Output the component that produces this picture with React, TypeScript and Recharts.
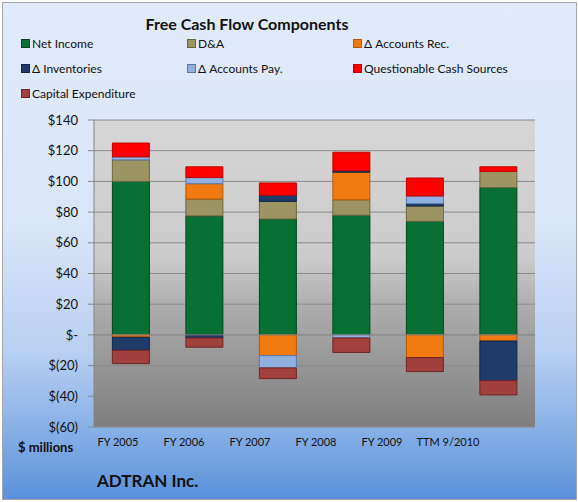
import React from "react";
import {
  BarChart,
  Bar,
  XAxis,
  YAxis,
  CartesianGrid,
  ReferenceLine,
} from "recharts";

const categories = ["FY 2005", "FY 2006", "FY 2007", "FY 2008", "FY 2009", "TTM 9/2010"];

const netIncome = [100, 77.5, 75.5, 78, 74, 96];
const depreciation = [14, 11, 11.5, 10, 10, 10.5];
const accountsRec = [-1.5, 10, -13.5, 18, -14.8, -4];
const inventories = [-8.5, -2, 4, 1, 1.5, -25.8];
const accountsPay = [2, 4, -8, -2, 5, 0];
const questionable = [9, 7, 8, 12, 11.7, 3];
const capex = [-8.7, -6, -7, -9.4, -9.1, -9.3];

const yTicks = [-60, -40, -20, 0, 20, 40, 60, 80, 100, 120, 140];

const SERIES = [
  { key: "netIncome", name: "Net Income", values: netIncome, fill: "#067035", border: "#03451f" },
  { key: "depreciation", name: "D&A", values: depreciation, fill: "#9c9563", border: "#6b663f" },
  { key: "accountsRec", name: "\u0394 Accounts Rec.", values: accountsRec, fill: "#f27a10", border: "#b4580a" },
  { key: "inventories", name: "\u0394 Inventories", values: inventories, fill: "#1f3b69", border: "#122644" },
  { key: "accountsPay", name: "\u0394 Accounts Pay.", values: accountsPay, fill: "#8fb0e0", border: "#5a78a6" },
  { key: "questionable", name: "Questionable Cash Sources", values: questionable, fill: "#ff0000", border: "#c00000" },
  { key: "capex", name: "Capital Expenditure", values: capex, fill: "#a23f3f", border: "#6e2525" },
];

const FONT = "Lato, 'Open Sans', sans-serif";

function money(v: number): string {
  if (v === 0) return "$-";
  if (v < 0) return `$(${-v})`;
  return `$${v}`;
}

export default function App() {
  const data = categories.map((cat, i) => {
    const row: Record<string, number | string> = { cat, idx: i };
    for (const s of SERIES) row[s.key] = s.values[i];
    return row;
  });

  return (
    <div
      style={{
        position: "absolute",
        left: 0,
        top: 0,
        width: 578,
        height: 502,
        background: "#ffffff",
        fontFamily: FONT,
      }}
    >
      <div
        style={{
          position: "absolute",
          left: 2,
          top: 2,
          width: 575,
          height: 498,
          boxSizing: "border-box",
          border: "1px solid #a6a6a6",
          background:
            "linear-gradient(to bottom, #e1eafa 0%, #d9e5f8 45%, #b9d0f2 70%, #8ab2e7 85%, #5a91da 100%)",
        }}
      />
      <div style={{ position: "absolute", left: 0, top: 0 }}>
        <BarChart
          width={578}
          height={502}
          data={data}
          stackOffset="sign"
          barCategoryGap="25%"
          margin={{ top: 120, right: 43, bottom: 45, left: 0 }}
        >
          <defs>
            <linearGradient id="plotBg" x1="0" y1="0" x2="0" y2="1">
              <stop offset="0%" stopColor="#d6d6d6" />
              <stop offset="45%" stopColor="#cbcbcb" />
              <stop offset="62%" stopColor="#ababab" />
              <stop offset="100%" stopColor="#7e7e7e" />
            </linearGradient>
          </defs>
          <CartesianGrid
            vertical={false}
            stroke="#8a8a8a"
            fill="url(#plotBg)"
            fillOpacity={1}
          />
          <XAxis
            dataKey="idx"
            xAxisId="labels"
            type="number"
            domain={[-0.364, 6.318]}
            ticks={[0, 1, 2, 3, 4, 5]}
            tickFormatter={(i: number) => categories[i] ?? ""}
            axisLine={false}
            tickLine={false}
            tickMargin={5}
            height={30}
            allowDataOverflow
            tick={{ fill: "#111", fontSize: 11, fontFamily: FONT }}
          />
          <XAxis dataKey="cat" xAxisId="bars" hide height={0} />
          <YAxis
            domain={[-60, 140]}
            ticks={yTicks}
            tickFormatter={money}
            width={94}
            axisLine={{ stroke: "#868686" }}
            tickLine={{ stroke: "#868686" }}
            tickSize={6}
            tickMargin={10}
            interval={0}
            tick={{ fill: "#111", fontSize: 13, fontFamily: FONT }}
          />
          <ReferenceLine y={0} xAxisId="bars" stroke="#8a8a8a" />
          {SERIES.map((s) => (
            <Bar
              key={s.key}
              dataKey={s.key}
              name={s.name}
              xAxisId="bars"
              stackId="fcf"
              fill={s.fill}
              stroke={s.border}
              strokeWidth={1}
              isAnimationActive={false}
            />
          ))}
        </BarChart>
      </div>

      <div
        style={{
          position: "absolute",
          left: 0,
          width: 494,
          top: 14,
          textAlign: "center",
          fontWeight: 700,
          fontSize: 16,
          color: "#111",
        }}
      >
        Free Cash Flow Components
      </div>

      {SERIES.map((s, i) => {
        const col = i % 3;
        const row = Math.floor(i / 3);
        return (
          <div
            key={s.key}
            style={{
              position: "absolute",
              left: 21 + col * 166,
              top: 36 + row * 25,
              display: "flex",
              alignItems: "center",
              fontSize: 12,
              color: "#111",
              whiteSpace: "nowrap",
            }}
          >
            <span
              style={{
                display: "inline-block",
                width: 7,
                height: 7,
                background: s.fill,
                border: `1px solid ${s.border}`,
                marginRight: 2,
              }}
            />
            {s.name}
          </div>
        );
      })}

      <div
        style={{
          position: "absolute",
          left: 18,
          top: 439,
          fontWeight: 700,
          fontSize: 13,
          color: "#111",
        }}
      >
        $ millions
      </div>
      <div
        style={{
          position: "absolute",
          left: 97,
          top: 470,
          fontWeight: 700,
          fontSize: 17,
          color: "#111",
        }}
      >
        ADTRAN Inc.
      </div>
    </div>
  );
}
